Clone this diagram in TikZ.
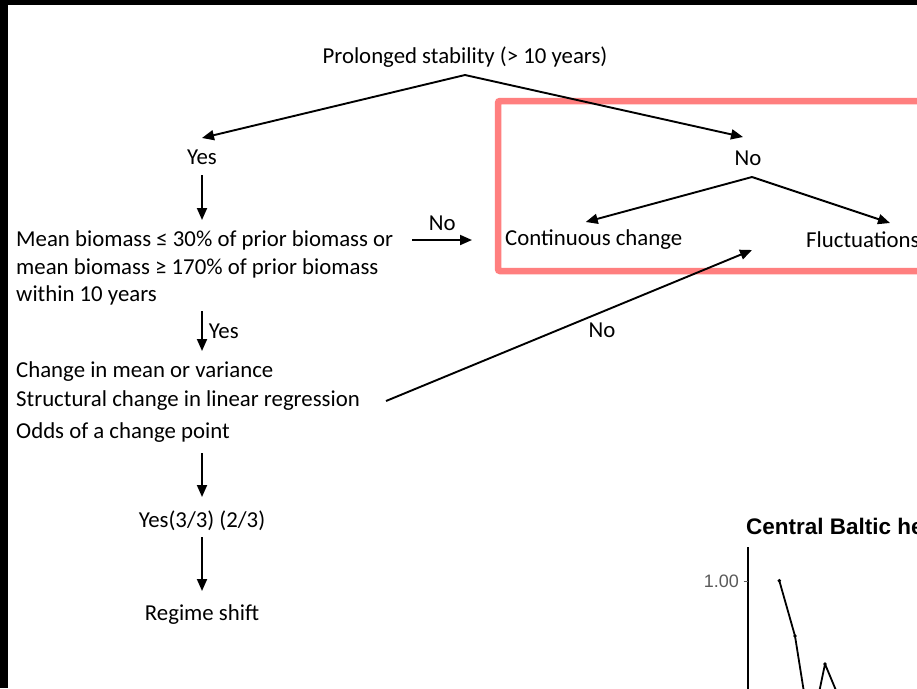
\documentclass[tikz,border=0pt]{standalone}
\usepackage{fontspec}
\setmainfont{Carlito}
\newfontfamily\plotfont{Liberation Sans}
\usetikzlibrary{arrows.meta}
\definecolor{frame}{RGB}{255,127,127}
\definecolor{ticktext}{RGB}{90,90,90}
\begin{document}
\begin{tikzpicture}[x={(1pt,0)},y={(0,-1pt)},
  txt/.style={inner sep=0pt,font=\fontsize{22.8}{27}\selectfont},
  ltxt/.style={txt,anchor=west},
  arr/.style={line width=1.9pt,-{Triangle[length=12pt,width=10pt]}},
  plotline/.style={line width=1.8pt,line join=round},
  dot/.style={circle,fill=black,inner sep=0pt,minimum size=3.8pt}]
\clip (0,0) rectangle (917,688);
\fill[white] (0,0) rectangle (917,688);
% dark edges of the slide
\fill[black] (0,0) rectangle (917,5);
\fill[black] (0,0) rectangle (8,688);

% highlighted region
\draw[frame,line width=6.5pt,rounded corners=2pt] (498,101) rectangle (940,271);

% decision tree text
\node[txt] (prol) at (465,57) {Prolonged stability (> 10 years)};
\node[txt] (yes) at (202,157) {Yes};
\node[txt] (no) at (748,158) {No};
\node[ltxt] (m1) at (16,240) {Mean biomass ≤ 30\% of prior biomass or};
\node[ltxt] (m2) at (16,268) {mean biomass ≥ 170\% of prior biomass};
\node[ltxt] (m3) at (16,295) {within 10 years};
\node[ltxt] (cont) at (505,240) {Continuous change};
\node[ltxt] (fluct) at (806,240) {Fluctuations};
\node[ltxt] (c1) at (16,372) {Change in mean or variance};
\node[ltxt] (c2) at (16,401) {Structural change in linear regression};
\node[ltxt] (c3) at (16,433) {Odds of a change point};
\node[txt] (y33) at (202,521) {Yes(3/3) (2/3)};
\node[txt] (rs) at (202,615) {Regime shift};
\coordinate (mid) at (752,250);

% connectors
\draw[arr] ([yshift=-18pt]prol.center) -- ([yshift=19pt]yes.center);
\draw[arr] ([yshift=-18pt]prol.center) -- ([xshift=-5pt,yshift=21pt]no.center);
\draw[arr] ([yshift=-18pt]yes.center) -- ([yshift=-63pt]yes.center);
\draw[arr] ([xshift=19pt]m1.east) -- node[txt,above=8pt]{No} ([xshift=-33pt]cont.west);
\draw[arr] ([xshift=4pt,yshift=-19pt]no.center) -- ([xshift=-8pt,yshift=18pt]cont.center);
\draw[arr] ([xshift=4pt,yshift=-19pt]no.center) -- ([xshift=84pt,yshift=17pt]fluct.west);
\draw[arr] ([yshift=-16pt]yes.center |- m3.center) -- node[txt,anchor=west,xshift=6pt]{Yes} ([yshift=21pt]yes.center |- c1.center);
\draw[arr] ([xshift=26pt]c2.east) -- node[txt,pos=0.59,below=10pt]{No} (mid);
\draw[arr] ([yshift=-20pt]yes.center |- c3.center) -- ([yshift=24pt]y33.center);
\draw[arr] ([yshift=-16pt]y33.center) -- ([yshift=24pt]rs.center);

% corner of the biomass plot
\node[inner sep=0pt,anchor=west,font=\plotfont\bfseries\fontsize{22.5}{26}\selectfont] (ttl) at (746,526) {Central Baltic he};
\draw[line width=1.9pt] (748,547) -- (748,700);
\draw[line width=1.2pt,ticktext] (743.5,581.5) -- (748,581.5);
\node[inner sep=0pt,anchor=east,text=ticktext,font=\plotfont\fontsize{18}{21}\selectfont] (t1) at (739,581.5) {1.00};
\draw[plotline] (779.3,580.7) -- (795,636) -- (806.8,710);
\draw[plotline] (817.5,700) -- (825,664) -- (840,700);
\node[dot] at (779.3,580.7) {};
\node[dot] at (795,636) {};
\node[dot] at (825,664) {};
\end{tikzpicture}
\end{document}
